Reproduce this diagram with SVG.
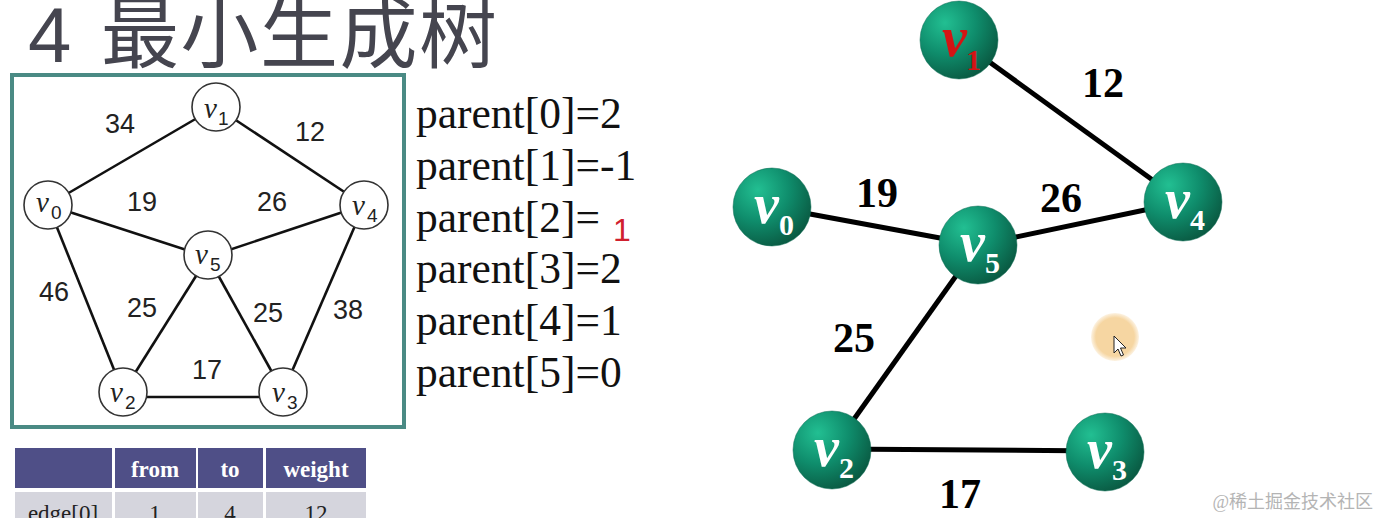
<svg xmlns="http://www.w3.org/2000/svg" width="1381" height="518" viewBox="0 0 1381 518">
<style>
.title{font-family:"Liberation Sans","Noto Sans CJK SC",sans-serif;font-size:78px;fill:#45454f}
.le{stroke:#111;stroke-width:2.6;fill:none}
.ln{fill:#fff;stroke:#333;stroke-width:1.6}
.lw{font-family:"Liberation Sans",sans-serif;font-size:27px;fill:#222;text-anchor:middle}
.lv{font-family:"Liberation Serif",serif;font-style:italic;font-size:29px;fill:#222}
.ls{font-family:"Liberation Sans",sans-serif;font-size:19px;fill:#222}
.par{font-family:"Liberation Serif",serif;font-size:43.5px;fill:#111}
.re{stroke:#000;stroke-width:5;fill:none}
.rn{fill:url(#g);stroke:#0b6a52;stroke-width:0.5}
.rv{font-family:"Liberation Serif",serif;font-style:italic;font-weight:bold;font-size:56px;fill:#fff}
.rs{font-family:"Liberation Serif",serif;font-weight:bold;font-size:30px;fill:#fff}
.rw{font-family:"Liberation Serif",serif;font-weight:bold;font-size:42px;fill:#000;text-anchor:middle}
.th{fill:#4f4f87}
.td{fill:#d5d5dd}
.tht{font-family:"Liberation Serif",serif;font-weight:bold;font-size:23px;fill:#fff;text-anchor:middle}
.tdt{font-family:"Liberation Serif",serif;font-size:23px;fill:#222;text-anchor:middle}
</style>
<defs>
<radialGradient id="g" cx="32%" cy="28%" r="80%">
<stop offset="0" stop-color="#22bf92"/>
<stop offset="0.5" stop-color="#0f8d6c"/>
<stop offset="1" stop-color="#09563f"/>
</radialGradient>
<radialGradient id="hl" cx="50%" cy="50%" r="50%">
<stop offset="0.8" stop-color="#f6d6a2"/>
<stop offset="1" stop-color="#f6d6a2" stop-opacity="0.3"/>
</radialGradient>
</defs>
<rect width="1381" height="518" fill="#fff"/>
<text class="title" x="28" y="62">4 <tspan x="101" letter-spacing="1.5">最小生成树</tspan></text>

<rect x="12" y="75" width="392" height="352" fill="#fff" stroke="#4a8a84" stroke-width="4"/>
<g id="left-edges">
<line class="le" x1="48" y1="205" x2="216" y2="107"/>
<line class="le" x1="216" y1="107" x2="364" y2="205"/>
<line class="le" x1="48" y1="205" x2="208" y2="257"/>
<line class="le" x1="208" y1="257" x2="364" y2="205"/>
<line class="le" x1="48" y1="205" x2="123" y2="392"/>
<line class="le" x1="208" y1="257" x2="123" y2="392"/>
<line class="le" x1="208" y1="257" x2="283" y2="392"/>
<line class="le" x1="364" y1="205" x2="283" y2="392"/>
<line class="le" x1="140" y1="397" x2="262" y2="397"/>
</g>
<g id="left-weights">
<text class="lw" x="120" y="133">34</text>
<text class="lw" x="310" y="141">12</text>
<text class="lw" x="142" y="211">19</text>
<text class="lw" x="272" y="211">26</text>
<text class="lw" x="54" y="301">46</text>
<text class="lw" x="142" y="317">25</text>
<text class="lw" x="268" y="322">25</text>
<text class="lw" x="348" y="319">38</text>
<text class="lw" x="207" y="379">17</text>
</g>
<g id="lv1"><circle class="ln" cx="216" cy="107" r="24"/><text class="lv" x="204" y="118">v</text><text class="ls" x="218" y="125">1</text></g>
<g id="lv0"><circle class="ln" cx="48" cy="205" r="24"/><text class="lv" x="36" y="212">v</text><text class="ls" x="51" y="219">0</text></g>
<g id="lv4"><circle class="ln" cx="364" cy="205" r="24"/><text class="lv" x="352" y="215">v</text><text class="ls" x="367" y="222">4</text></g>
<g id="lv5"><circle class="ln" cx="208" cy="255" r="24"/><text class="lv" x="195" y="264">v</text><text class="ls" x="210" y="271">5</text></g>
<g id="lv2"><circle class="ln" cx="123" cy="392" r="24"/><text class="lv" x="110" y="402">v</text><text class="ls" x="125" y="409">2</text></g>
<g id="lv3"><circle class="ln" cx="283" cy="392" r="24"/><text class="lv" x="272" y="402">v</text><text class="ls" x="287" y="409">3</text></g>

<g id="parents">
<text class="par" x="416" y="128">parent[0]=2</text>
<text class="par" x="416" y="180">parent[1]=-1</text>
<text class="par" x="416" y="232">parent[2]=</text>
<text x="613" y="241" font-family="Liberation Sans,sans-serif" font-size="32" fill="#d0202e">1</text>
<text class="par" x="416" y="283">parent[3]=2</text>
<text class="par" x="416" y="335">parent[4]=1</text>
<text class="par" x="416" y="387">parent[5]=0</text>
</g>

<g id="table">
<rect class="th" x="15" y="448" width="97" height="40"/>
<rect class="th" x="115" y="448" width="81" height="40"/>
<rect class="th" x="198" y="448" width="65" height="40"/>
<rect class="th" x="266" y="448" width="100" height="40"/>
<text class="tht" x="155" y="477">from</text>
<text class="tht" x="230" y="477">to</text>
<text class="tht" x="316" y="477">weight</text>
<rect class="td" x="15" y="492" width="97" height="30"/>
<rect class="td" x="115" y="492" width="81" height="30"/>
<rect class="td" x="198" y="492" width="65" height="30"/>
<rect class="td" x="266" y="492" width="100" height="30"/>
<text class="tdt" x="63" y="521">edge[0]</text>
<text class="tdt" x="155" y="521">1</text>
<text class="tdt" x="230" y="521">4</text>
<text class="tdt" x="316" y="521">12</text>
</g>

<g id="connectors">
<line class="re" x1="959" y1="40" x2="1183" y2="202"/>
<line class="re" x1="772" y1="207" x2="978" y2="245"/>
<line class="re" x1="978" y1="245" x2="1183" y2="202"/>
<line class="re" x1="978" y1="245" x2="832" y2="450"/>
<line class="re" x1="832" y1="449" x2="1105" y2="451"/>
</g>
<g id="weights">
<text class="rw" x="1103" y="97">12</text>
<text class="rw" x="1061" y="212">26</text>
<text class="rw" x="877" y="207">19</text>
<text class="rw" x="854" y="352">25</text>
<text class="rw" x="960" y="508">17</text>
</g>
<g id="v1"><circle class="rn" cx="959" cy="40" r="39"/><text class="rv" x="942" y="56" style="fill:#d41414">v</text><text class="rs" x="966" y="70" style="fill:#d41414">1</text></g>
<g id="v0"><circle class="rn" cx="772" cy="207" r="39"/><text class="rv" x="754" y="223">v</text><text class="rs" x="779" y="235">0</text></g>
<g id="v4"><circle class="rn" cx="1183" cy="202" r="39"/><text class="rv" x="1165" y="218">v</text><text class="rs" x="1190" y="230">4</text></g>
<g id="v5"><circle class="rn" cx="978" cy="245" r="39"/><text class="rv" x="960" y="261">v</text><text class="rs" x="985" y="273">5</text></g>
<g id="v2"><circle class="rn" cx="832" cy="450" r="39"/><text class="rv" x="814" y="466">v</text><text class="rs" x="839" y="478">2</text></g>
<g id="v3"><circle class="rn" cx="1105" cy="452" r="39"/><text class="rv" x="1087" y="468">v</text><text class="rs" x="1112" y="480">3</text></g>

<circle cx="1115" cy="337" r="24" fill="url(#hl)"/>
<path d="M1114 336 L1114 353 L1118 349 L1121 356 L1123.5 355 L1120.5 348 L1126 348 Z" fill="#fff" stroke="#222" stroke-width="1"/>
<text x="1373" y="508" text-anchor="end" font-family="Liberation Serif,Noto Sans CJK SC,serif" font-size="18" fill="#b4b4b4">@稀土掘金技术社区</text>
</svg>
